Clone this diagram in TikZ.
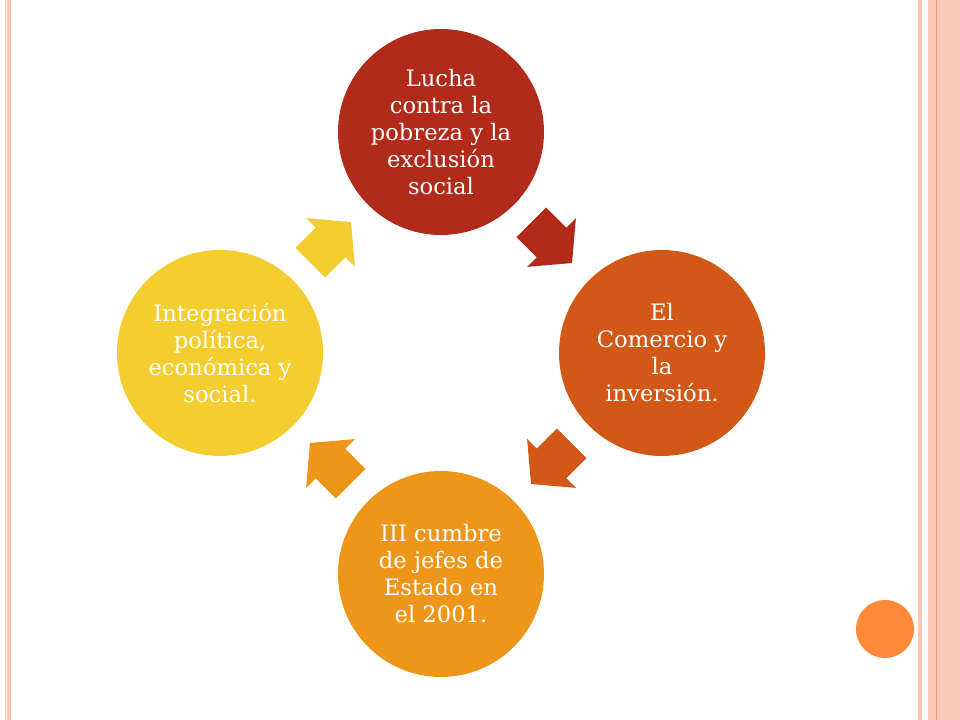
\documentclass[tikz,border=0pt]{standalone}
\usepackage{fontspec}
\setmainfont{DejaVu Serif}
\usetikzlibrary{calc}
\definecolor{redc}{RGB}{178,42,26}
\definecolor{orangec}{RGB}{209,88,22}
\definecolor{amberc}{RGB}{238,150,26}
\definecolor{yellowc}{RGB}{244,205,49}
\definecolor{stripe}{RGB}{252,200,182}
\definecolor{stripedark}{RGB}{236,160,128}
\definecolor{dotc}{RGB}{253,138,56}
\tikzset{every picture/.style={line width=0.75pt}}
\tikzset{bubble/.style={circle, minimum size=154.5pt, inner sep=0pt, text=white, align=center, font=\fontsize{17}{20.25}\selectfont}}

\begin{document}
\begin{tikzpicture}[x=0.75pt,y=0.75pt,yscale=-1,xscale=1]
\useasboundingbox (0,0) rectangle (960,720);
\fill[white] (0,0) rectangle (960,720);

%Shape: Rectangle [left border]
\fill[stripe] (5,0) rectangle (11,720);
\fill[white!70!stripe] (6.3,0) rectangle (7.3,720);
%Shape: Rectangle [right border]
\fill[stripe] (918,0) rectangle (922,720);
\fill[stripe] (928,0) rectangle (960,720);
\fill[stripedark] (935.7,0) rectangle (936.9,720);
\fill[stripe!80!white] (941,0) rectangle (943,720);
%Shape: Circle [dot]
\fill[dotc] (885,629) circle (29);

% Circles
\node[bubble, fill=redc] (top) at (441,132) {Lucha\\contra la\\pobreza y la\\exclusión\\social};
\node[bubble, fill=orangec] (right) at (662,353) {El\\Comercio y\\la\\inversión.};
\node[bubble, fill=amberc] (bottom) at (441,574) {III cumbre\\de jefes de\\Estado en\\el 2001.};
\node[bubble, fill=yellowc] (left) at (220,353) {Integración\\política,\\económica y\\social.};

% Arrows
\foreach \a/\b/\ang/\col in {top/right/45/redc, right/bottom/135/orangec, bottom/left/225/amberc, left/top/315/yellowc}
  \fill[\col, shift={($(\a)!0.5!(\b)$)}, rotate=\ang] (-28.5,-21) -- (0,-21) -- (0,-34.5) -- (29,0) -- (0,34.5) -- (0,21) -- (-28.5,21) -- cycle;

\end{tikzpicture}
\end{document}
